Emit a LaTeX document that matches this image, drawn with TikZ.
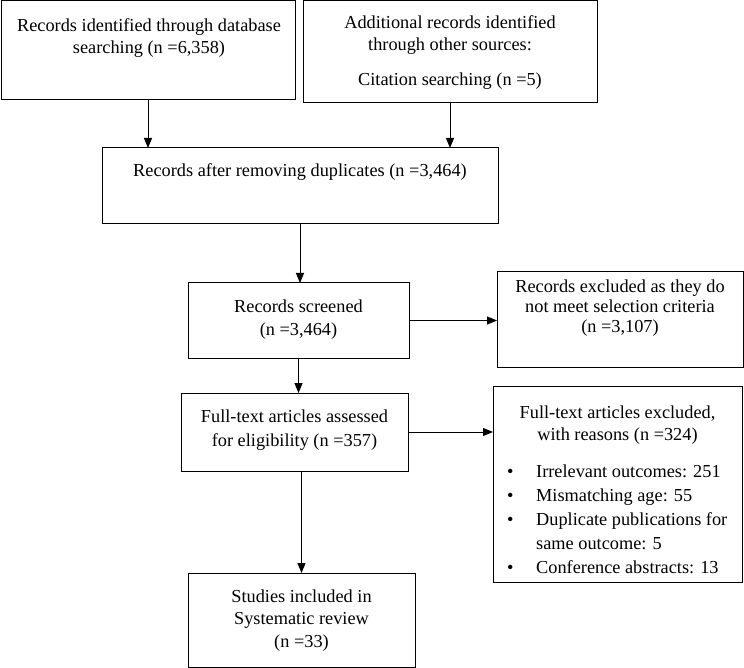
\documentclass[tikz,border=0pt]{standalone}
\usepackage{fontspec}
\setmainfont{Liberation Serif}
\usetikzlibrary{arrows.meta}
\newcommand{\bul}{\makebox[29pt][l]{\textbullet}}

\begin{document}
\begin{tikzpicture}[x=1pt,y=-1pt,
    box/.style={draw,line width=1pt,inner sep=0pt,outer sep=0pt},
    txt/.style={anchor=base,align=center,inner sep=0pt,font=\fontsize{18.3}{22.5}\selectfont},
    arr/.style={line width=1pt,-{Triangle[length=10pt,width=8pt]}}]
  \useasboundingbox (0,0) rectangle (744,668);

  % boxes
  \node[box,minimum width=294pt,minimum height=99pt] (dbbox) at (148,50.5) {};
  \node[box,minimum width=294pt,minimum height=102pt] (otherbox) at (450,52) {};
  \node[box,minimum width=396pt,minimum height=76pt] (dupbox) at (300,186) {};
  \node[box,minimum width=221pt,minimum height=75pt] (scrbox) at (298.5,320.5) {};
  \node[box,minimum width=246pt,minimum height=95pt] (exbox) at (620,319.5) {};
  \node[box,minimum width=227pt,minimum height=78pt] (fullbox) at (294.5,432) {};
  \node[box,minimum width=249pt,minimum height=196pt] (whybox) at (617.5,484) {};
  \node[box,minimum width=227pt,minimum height=94pt] (inclbox) at (301.5,620) {};

  % texts (base = last line)
  \node[txt] (dbtext) at (149,54) {Records identified through database\\searching (n =6,358)};
  \node[txt] (othertext) at (450,51) {Additional records identified\\through other sources:};
  \node[txt] (citetext) at (450,86) {Citation searching (n =5)};
  \node[txt] (duptext) at (300,177) {Records after removing duplicates (n =3,464)};
  \node[txt] (scrtext) at (298.5,335) {Records screened\\(n =3,464)};
  \node[txt] (extext) at (620,332) {Records excluded as they do\\[-2.5pt]not meet selection criteria\\[-2.5pt](n =3,107)};
  \node[txt] (fulltext) at (294.5,446) {Full-text articles assessed\\[1pt]for eligibility (n =357)};
  \node[txt] (whytext) at (617.5,440) {Full-text articles excluded,\\[-1pt]with reasons (n =324)};
  \node[txt,anchor=base west,align=left,font=\fontsize{18.3}{24}\selectfont] (whylist) at (507,573)
    {\bul Irrelevant outcomes: 251\\
     \bul Mismatching age: 55\\
     \bul Duplicate publications for\\
     \hspace*{29pt}same outcome: 5\\
     \bul Conference abstracts: 13};
  \node[txt] (incltext) at (301.5,647) {Studies included in\\Systematic review\\(n =33)};

  % arrows
  \draw[arr] (dbbox.south) -- (dbbox.south |- dupbox.north);
  \draw[arr] (otherbox.south) -- (otherbox.south |- dupbox.north);
  \draw[arr] (dupbox.south) -- (dupbox.south |- scrbox.north);
  \draw[arr] (scrbox.east) -- (scrbox.east -| exbox.west);
  \draw[arr] (scrbox.south) -- (scrbox.south |- fullbox.north);
  \draw[arr] (fullbox.east) -- (fullbox.east -| whybox.west);
  \draw[arr] (inclbox.north |- fullbox.south) -- (inclbox.north);
\end{tikzpicture}
\end{document}
